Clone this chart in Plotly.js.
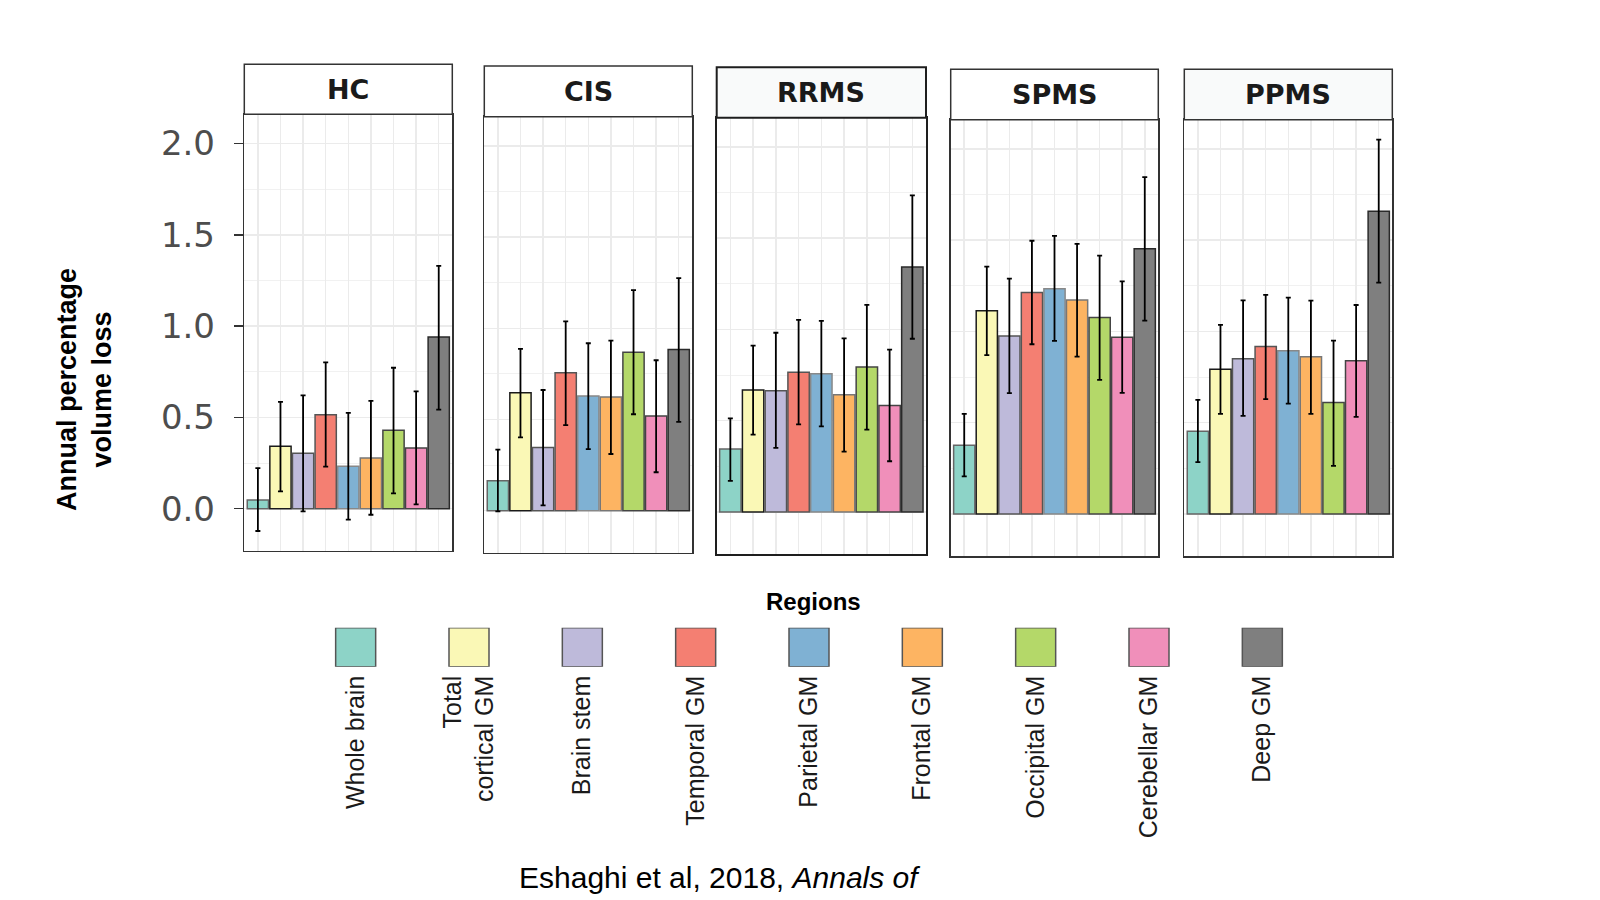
<!DOCTYPE html>
<html>
<head>
<meta charset="utf-8">
<script src="https://cdn.plot.ly/plotly-3.0.1.min.js"></script>
<style>html,body{margin:0;padding:0;background:#fff;}#chart{width:1600px;height:900px;}</style>
</head>
<body>
<div id="chart"></div>
<script>
// ---------- DATA ----------
const regions = ['Whole brain','Total cortical GM','Brain stem','Temporal GM','Parietal GM','Frontal GM','Occipital GM','Cerebellar GM','Deep GM'];
const regionLabels = ['Whole brain','Total<br>cortical GM','Brain stem','Temporal GM','Parietal GM','Frontal GM','Occipital GM','Cerebellar GM','Deep GM'];
const groups = ['HC','CIS','RRMS','SPMS','PPMS'];

const hcMean  = [0.047, 0.342, 0.304, 0.515, 0.233, 0.277, 0.430, 0.332, 0.940];
const hcHigh  = [0.222, 0.585, 0.621, 0.801, 0.525, 0.590, 0.772, 0.643, 1.330];
const hcLow   = [-0.122, 0.095, -0.015, 0.230, -0.060, -0.033, 0.084, 0.024, 0.543];

const cisMean = [0.165, 0.647, 0.347, 0.756, 0.629, 0.624, 0.869, 0.520, 0.884];
const cisHigh = [0.335, 0.887, 0.662, 1.038, 0.918, 0.933, 1.209, 0.825, 1.275];
const cisLow  = [-0.004, 0.402, 0.029, 0.469, 0.338, 0.311, 0.529, 0.211, 0.487];

const rrmsMean = [0.345, 0.669, 0.664, 0.765, 0.758, 0.642, 0.795, 0.584, 1.342];
const rrmsHigh = [0.513, 0.911, 0.982, 1.053, 1.047, 0.951, 1.135, 0.889, 1.735];
const rrmsLow  = [0.171, 0.424, 0.351, 0.480, 0.469, 0.331, 0.451, 0.278, 0.949];

const spmsMean = [0.376, 1.114, 0.975, 1.214, 1.234, 1.172, 1.076, 0.968, 1.453];
const spmsHigh = [0.549, 1.355, 1.289, 1.497, 1.524, 1.480, 1.415, 1.274, 1.845];
const spmsLow  = [0.206, 0.870, 0.662, 0.930, 0.948, 0.862, 0.735, 0.664, 1.059];

const ppmsMean = [0.454, 0.793, 0.851, 0.917, 0.895, 0.862, 0.611, 0.839, 1.659];
const ppmsHigh = [0.625, 1.036, 1.170, 1.200, 1.185, 1.169, 0.950, 1.145, 2.051];
const ppmsLow  = [0.284, 0.549, 0.538, 0.629, 0.605, 0.549, 0.264, 0.532, 1.267];

const yTickVals = [0, 0.5, 1, 1.5, 2];
const yTickText = ['0.0','0.5','1.0','1.5','2.0'];
const yTitle = 'Annual percentage<br>volume loss';
const legendTitle = 'Regions';
const caption = 'Eshaghi et al, 2018, <i>Annals of</i>';

// ---------- STYLE ----------
const fillColors = ['#8DD3C7','#FAF8B6','#BEBADA','#F47F72','#7FB1D3','#FDB462','#B4D869','#F08FBA','#7F7F7F'];
const edgeColors = ['#666666','#1a1a1a','#555555','#555555','#888888','#777777','#444444','#444444','#2a2a2a'];

const means = [hcMean, cisMean, rrmsMean, spmsMean, ppmsMean];
const highs = [hcHigh, cisHigh, rrmsHigh, spmsHigh, ppmsHigh];
const lows  = [hcLow, cisLow, rrmsLow, spmsLow, ppmsLow];

// panel geometry in pixels (left, right, stripTop, stripBottom(=plotTop), plotBottom)
const panelBox = [
  [244.3, 452.3, 64.3, 114.3, 550.7],
  [484.3, 692.3, 66.0, 116.7, 552.7],
  [716.7, 926.0, 67.3, 117.7, 554.0],
  [950.7, 1158.3, 69.3, 119.7, 556.0],
  [1184.3, 1392.3, 69.3, 119.7, 556.0]
];
const stripFill = ['#ffffff','#ffffff','#f9fafa','#ffffff','#f9fafa'];
const borderColor = ['#333333','#333333','#1e1e1e','#333333','#333333'];
const borderWidth = [1.5,1.5,2,1.5,1.5];

const W = 1600, H = 900;
const px = x => x / W;
const py = y => 1 - y / H;

const traces = [];
const layout = {
  width: W, height: H,
  margin: {l:0, r:0, t:0, b:0},
  paper_bgcolor: '#ffffff',
  plot_bgcolor: '#ffffff',
  showlegend: false,
  bargap: 0.06,
  shapes: [],
  annotations: [],
  font: {family: 'Liberation Sans, Arial, sans-serif', color: '#1a1a1a'}
};

groups.forEach((g, i) => {
  const n = i + 1;
  const xa = 'x' + (n === 1 ? '' : n);
  const ya = 'y' + (n === 1 ? '' : n);
  const b = panelBox[i];
  traces.push({
    type: 'bar',
    x: regions,
    y: means[i],
    xaxis: xa, yaxis: ya,
    marker: {color: fillColors, line: {color: edgeColors, width: 1.5}},
    error_y: {
      type: 'data', symmetric: false,
      array: highs[i].map((h, k) => h - means[i][k]),
      arrayminus: means[i].map((m, k) => m - lows[i][k]),
      color: '#000000', thickness: 1.8, width: 2.5
    },
    hoverinfo: 'x+y'
  });
  const xName = 'xaxis' + (n === 1 ? '' : n);
  const yName = 'yaxis' + (n === 1 ? '' : n);
  layout[xName] = {
    domain: [px(b[0]), px(b[1])],
    anchor: ya,
    type: 'category',
    categoryorder: 'array', categoryarray: regions,
    range: [-0.6, 8.6],
    showticklabels: false, ticks: '',
    showgrid: true, gridcolor: '#ebebeb', gridwidth: 1.5,
    zeroline: false,
    showline: true, mirror: true, linecolor: borderColor[i], linewidth: borderWidth[i],
    fixedrange: true
  };
  layout[yName] = {
    domain: [py(b[4]), py(b[3])],
    anchor: xa,
    range: [-0.23, 2.16],
    tickmode: 'array', tickvals: yTickVals, ticktext: yTickText,
    showgrid: true, gridcolor: '#ebebeb', gridwidth: 1.5,
    minor: {tickmode: 'array', tickvals: [0.25, 0.75, 1.25, 1.75], showgrid: true, gridcolor: '#f1f1f1', gridwidth: 1, ticks: ''},
    zeroline: false,
    showline: true, mirror: true, linecolor: borderColor[i], linewidth: borderWidth[i],
    showticklabels: i === 0,
    ticks: i === 0 ? 'outside' : '',
    ticklen: 9, tickwidth: 1.5, tickcolor: '#333333',
    ticklabelstandoff: 12,
    tickfont: {family: 'DejaVu Sans, sans-serif', size: 34, color: '#4d4d4d'},
    fixedrange: true
  };
  // strip
  layout.shapes.push({
    type: 'rect', xref: 'paper', yref: 'paper',
    x0: px(b[0]), x1: px(b[1]), y0: py(b[3]), y1: py(b[2]),
    fillcolor: stripFill[i], line: {color: borderColor[i], width: borderWidth[i]}
  });
  layout.annotations.push({
    xref: 'paper', yref: 'paper',
    x: px((b[0] + b[1]) / 2), y: py((b[2] + b[3]) / 2),
    xanchor: 'center', yanchor: 'middle', showarrow: false,
    text: '<b>' + g + '</b>',
    font: {family: 'DejaVu Sans, sans-serif', size: 27, color: '#1a1a1a'}
  });
});

// legend as a small bar subplot
traces.push({
  type: 'bar',
  x: regions,
  y: regions.map(() => 1),
  width: regions.map(() => 0.353),
  xaxis: 'x6', yaxis: 'y6',
  marker: {color: fillColors, line: {color: '#555555', width: 1.5}},
  hoverinfo: 'x'
});
layout.xaxis6 = {
  domain: [px(299), px(1319)],
  anchor: 'y6',
  type: 'category',
  categoryorder: 'array', categoryarray: regions,
  tickmode: 'array', tickvals: regions, ticktext: regionLabels,
  range: [-0.5, 8.5],
  tickangle: -90,
  ticks: '', showline: false, showgrid: false, zeroline: false,
  ticklabelstandoff: 3,
  tickfont: {family: 'Liberation Sans, Arial, sans-serif', size: 25, color: '#1a1a1a'},
  fixedrange: true
};
layout.yaxis6 = {
  domain: [py(666.7), py(627.7)],
  anchor: 'x6',
  range: [0, 1],
  visible: false,
  fixedrange: true
};

// titles
layout.annotations.push({
  xref: 'paper', yref: 'paper', x: px(84), y: py(390),
  xanchor: 'center', yanchor: 'middle', showarrow: false, textangle: -90,
  text: '<b>' + yTitle + '</b>',
  font: {family: 'Liberation Sans, Arial, sans-serif', size: 27, color: '#000000'}
});
layout.annotations.push({
  xref: 'paper', yref: 'paper', x: px(813), y: py(601),
  xanchor: 'center', yanchor: 'middle', showarrow: false,
  text: '<b>' + legendTitle + '</b>',
  font: {family: 'Liberation Sans, Arial, sans-serif', size: 24, color: '#000000'}
});
layout.annotations.push({
  xref: 'paper', yref: 'paper', x: px(517), y: py(877),
  xanchor: 'left', yanchor: 'middle', showarrow: false,
  text: caption,
  font: {family: 'Liberation Sans, Arial, sans-serif', size: 30, color: '#000000'}
});

Plotly.newPlot('chart', traces, layout, {displayModeBar: false, staticPlot: true});
</script>
</body>
</html>
